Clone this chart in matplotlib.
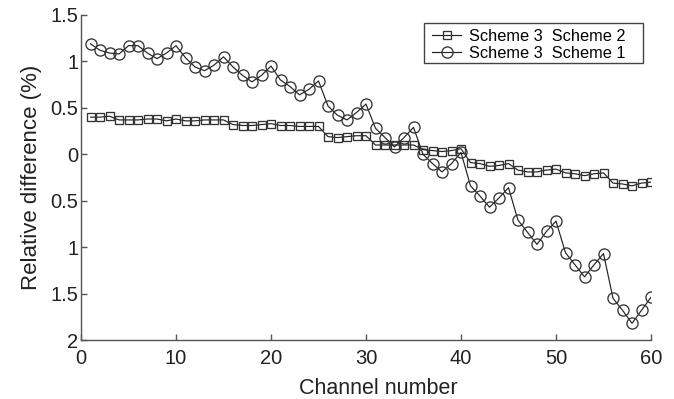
import matplotlib
matplotlib.use("Agg")
import matplotlib.pyplot as plt
from matplotlib.patches import Rectangle

plt.rcParams['font.family'] = ['Liberation Sans', 'DejaVu Sans']

channels = list(range(1, 61))

# Scheme 3 vs Scheme 2 relative difference (%)
diff_s3_s2 = [0.40, 0.40, 0.41, 0.37, 0.37, 0.37, 0.38, 0.38, 0.36, 0.38,
              0.36, 0.36, 0.37, 0.37, 0.37, 0.32, 0.31, 0.31, 0.32, 0.33,
              0.31, 0.31, 0.30, 0.30, 0.30, 0.19, 0.18, 0.19, 0.20, 0.20,
              0.10, 0.10, 0.10, 0.10, 0.10, 0.05, 0.04, 0.03, 0.04, 0.06,
              -0.09, -0.10, -0.13, -0.12, -0.10, -0.17, -0.19, -0.19, -0.17, -0.16,
              -0.20, -0.21, -0.23, -0.21, -0.20, -0.31, -0.32, -0.34, -0.31, -0.30]

# Scheme 3 vs Scheme 1 relative difference (%)
diff_s3_s1 = [1.19, 1.12, 1.09, 1.08, 1.17, 1.17, 1.09, 1.03, 1.09, 1.17,
              1.04, 0.94, 0.90, 0.96, 1.05, 0.94, 0.85, 0.78, 0.85, 0.95,
              0.80, 0.73, 0.64, 0.70, 0.79, 0.52, 0.42, 0.37, 0.45, 0.54,
              0.28, 0.18, 0.08, 0.18, 0.29, 0.00, -0.10, -0.19, -0.10, 0.02,
              -0.34, -0.45, -0.57, -0.47, -0.36, -0.71, -0.84, -0.97, -0.83, -0.72,
              -1.06, -1.19, -1.32, -1.19, -1.07, -1.55, -1.68, -1.82, -1.68, -1.54]

x_ticks = [0, 10, 20, 30, 40, 50, 60]
y_ticks = [1.5, 1, 0.5, 0, -0.5, -1, -1.5, -2]
y_tick_labels = ['1.5', '1', '0.5', '0', '0.5', '1', '1.5', '2']
legend_labels = ['Scheme 3  Scheme 2', 'Scheme 3  Scheme 1']

W, H = 674, 399
fig = plt.figure(figsize=(W / 100, H / 100), dpi=100)
ax = fig.add_axes([81 / W, 1 - 340 / H, 570 / W, 325 / H])

ink = '#222222'
ax.plot(channels, diff_s3_s2, color=ink, lw=0.85, marker='s', ms=6.2,
        mfc='none', mec='#333333', mew=0.95, label=legend_labels[0])
ax.plot(channels, diff_s3_s1, color=ink, lw=0.85, marker='o', ms=8,
        mfc='none', mec='#333333', mew=0.95, label=legend_labels[1])

ax.set_xlim(0, 60)
ax.set_ylim(-2, 1.5)
ax.set_xticks(x_ticks)
ax.set_yticks(y_ticks)
ax.set_yticklabels(y_tick_labels)

for side in ('top', 'right'):
    ax.spines[side].set_visible(False)
for side in ('left', 'bottom'):
    ax.spines[side].set_color('#555555')
    ax.spines[side].set_linewidth(1.0)

ax.tick_params(direction='in', length=4, width=1.0, color='#555555',
               labelsize=14.5, labelcolor='#222222')
ax.tick_params(axis='x', pad=6.5)
ax.tick_params(axis='y', pad=2)

ax.set_xlabel('Channel number', fontsize=15.5, color='#222222', labelpad=7)
ax.xaxis.label.set_x((378 - 81) / 570)
ax.set_ylabel('Relative difference (%)', fontsize=16, color='#222222', labelpad=6)

# legend entries, with a plain rectangular frame drawn around them
leg = ax.legend(loc='upper left', bbox_to_anchor=(432 / W, 1 - 29.2 / H),
                bbox_transform=fig.transFigure, fontsize=11.8, frameon=False,
                handlelength=1.77, handletextpad=0.49, borderpad=0,
                labelspacing=0.1, borderaxespad=0)
fig.add_artist(Rectangle((424 / W, 1 - 63 / H), 219 / W, 40 / H,
                         transform=fig.transFigure, fill=False,
                         ec='#444444', lw=1.0))

fig.savefig('out.png', dpi=100)
